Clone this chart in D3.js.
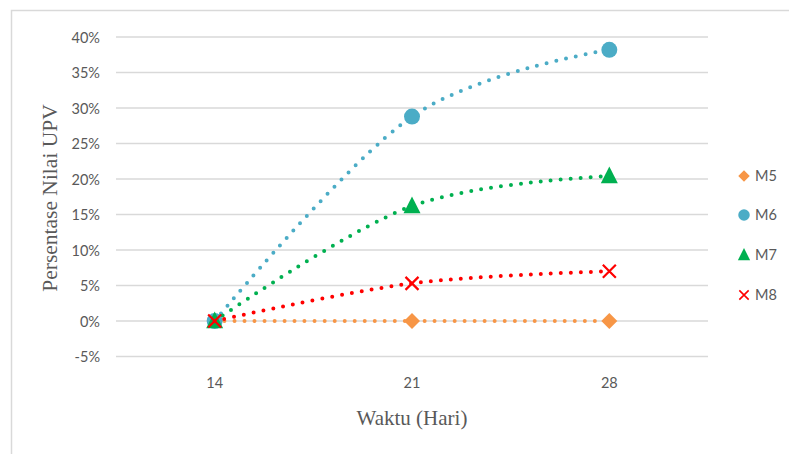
<!DOCTYPE html>
<html>
<head>
<meta charset="utf-8">
<script src="https://cdn.jsdelivr.net/npm/d3@7"></script>
<style>
  body { margin: 0; background: #fff; }
  svg { display: block; }
</style>
</head>
<body>
<svg id="chart" width="789" height="454"></svg>
<script>
const categories = ["14", "21", "28"];
const seriesNames = ["M5", "M6", "M7", "M8"];
const m5 = [0, 0, 0];
const m6 = [0, 0.288, 0.382];
const m7 = [0, 0.162, 0.204];
const m8 = [0, 0.053, 0.070];
const yTicks = [-0.05, 0, 0.05, 0.10, 0.15, 0.20, 0.25, 0.30, 0.35, 0.40];

const colors = { M5: "#F79646", M6: "#4BACC6", M7: "#00B050", M8: "#FF0000" };
const shapes = { M5: "diamond", M6: "circle", M7: "triangle", M8: "cross" };
const seriesData = { M5: m5, M6: m6, M7: m7, M8: m8 };

const svg = d3.select("#chart");

// outer frame (left + top visible)
svg.append("rect").attr("x", 11.5).attr("y", 10.5).attr("width", 820).attr("height", 500)
  .attr("fill", "none").attr("stroke", "#D9D9D9").attr("stroke-width", 1.5);

const left = 116, right = 708;
const x = d3.scaleBand().domain(categories).range([left, right]);
const y = d3.scaleLinear().domain([-0.05, 0.40]).range([356.5, 37]);

// gridlines
svg.append("g").selectAll("line").data(yTicks).join("line")
  .attr("x1", left).attr("x2", right)
  .attr("y1", d => y(d)).attr("y2", d => y(d))
  .attr("stroke", "#D9D9D9").attr("stroke-width", 1.3);

// y axis labels
const yAxis = d3.axisLeft(y).tickValues(yTicks).tickSize(0).tickPadding(0)
  .tickFormat(d => Math.round(d * 100) + "%");
const yg = svg.append("g").attr("transform", `translate(${100},0)`).call(yAxis);
yg.select(".domain").remove();
yg.selectAll("text").attr("font-family", "Lato, 'Open Sans', sans-serif")
  .attr("font-size", 14.5).attr("fill", "#595959").attr("dy", "0.35em");

// x axis labels
const xAxis = d3.axisBottom(x).tickSize(0).tickPadding(0);
const xg = svg.append("g").attr("transform", `translate(0,${378})`).call(xAxis);
xg.select(".domain").remove();
xg.selectAll("text").attr("font-family", "Lato, 'Open Sans', sans-serif")
  .attr("font-size", 14.5).attr("fill", "#595959");

// axis titles
svg.append("text").attr("x", 412).attr("y", 425).attr("text-anchor", "middle")
  .attr("font-family", "'Liberation Serif', 'Times New Roman', serif")
  .attr("font-size", 21).attr("fill", "#595959").text("Waktu (Hari)");
svg.append("text").attr("transform", "translate(57,198) rotate(-90)").attr("text-anchor", "middle")
  .attr("font-family", "'Liberation Serif', 'Times New Roman', serif")
  .attr("font-size", 21.5).attr("fill", "#595959").text("Persentase Nilai UPV");

const cx = c => x(c) + x.bandwidth() / 2;
const line = d3.line().x((d, i) => cx(categories[i])).y(d => y(d))
  .curve(d3.curveCardinal.tension(0));

function drawMarker(g, name, px, py, scale) {
  const s = scale || 1;
  const shape = shapes[name];
  if (shape === "cross") {
    const r = 6.5 * s;
    g.append("path").attr("d", `M${px - r},${py - r}L${px + r},${py + r}M${px - r},${py + r}L${px + r},${py - r}`)
      .attr("stroke", colors[name]).attr("stroke-width", 2.2 * s).attr("fill", "none");
  } else {
    let p = g.append("path").attr("fill", colors[name]);
    if (shape === "diamond") {
      const r = 8 * s;
      p.attr("d", `M${px},${py - r}L${px + r},${py}L${px},${py + r}L${px - r},${py}Z`);
    } else if (shape === "circle") {
      p.attr("d", d3.symbol().type(d3.symbolCircle).size(200 * s * s)()).attr("transform", `translate(${px},${py})`);
    } else if (shape === "triangle") {
      const h = 16 * s, w = 17 * s;
      p.attr("d", `M${px},${py - h * 0.6}L${px + w / 2},${py + h * 0.45}L${px - w / 2},${py + h * 0.45}Z`);
    }
  }
}

seriesNames.forEach(name => {
  const vals = seriesData[name];
  const g = svg.append("g");
  g.append("path").datum(vals).attr("d", line)
    .attr("fill", "none").attr("stroke", colors[name]).attr("stroke-width", 4)
    .attr("stroke-linecap", "round").attr("stroke-dasharray", "0 10");
  vals.forEach((v, i) => drawMarker(g, name, cx(categories[i]), y(v), 1));
});

// legend
const legendY = [176, 215, 255, 295];
seriesNames.forEach((name, i) => {
  const g = svg.append("g");
  drawMarker(g, name, 744, legendY[i], 0.72);
  g.append("text").attr("x", 755).attr("y", legendY[i]).attr("dy", "0.36em")
    .attr("font-family", "Lato, 'Open Sans', sans-serif").attr("font-size", 14.5)
    .attr("fill", "#595959").text(name);
});
</script>
</body>
</html>
